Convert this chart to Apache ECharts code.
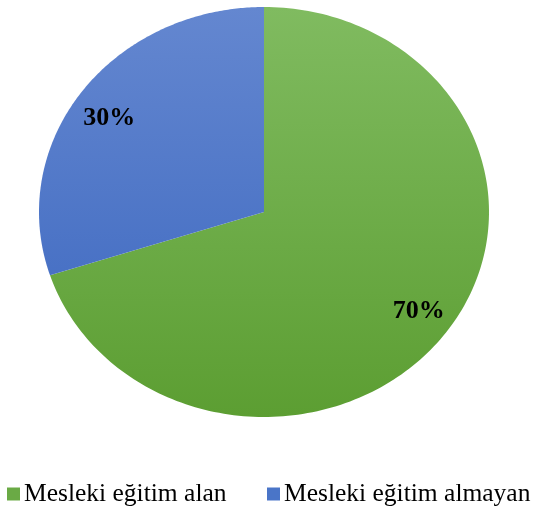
<!DOCTYPE html>
<html>
<head>
<meta charset="utf-8">
<script src="https://cdn.jsdelivr.net/npm/echarts@6/dist/echarts.min.js"></script>
<style>html,body{margin:0;padding:0;background:#fff}#c{width:534px;height:507px}</style>
</head>
<body>
<div id="c"></div>
<script>
var categories = ['Mesleki eğitim alan', 'Mesleki eğitim almayan'];
var values = [70, 30];
var labels = ['70%', '30%'];

var CX = 264, CY = 212, RX = 225, RY = 205;
var total = values.reduce(function (a, b) { return a + b; }, 0);

var gradients = [
  ['#80bb60', '#5c9e32'],
  ['#6487d0', '#3a66bf']
];
var legendColors = ['#6aaa45', '#4a75c8'];

function makeSeries(idx) {
  var before = 0;
  for (var k = 0; k < idx; k++) before += values[k];
  return {
    type: 'custom',
    name: categories[idx],
    coordinateSystem: 'none',
    color: legendColors[idx],
    data: [values[idx]],
    silent: true,
    renderItem: function (params, api) {
      var v = api.value(0);
      var a0 = Math.PI / 2 - 2 * Math.PI * before / total;
      var a1 = a0 - 2 * Math.PI * v / total;
      var pts = [[CX, CY]];
      var n = 200;
      for (var i = 0; i <= n; i++) {
        var a = a0 + (a1 - a0) * i / n;
        pts.push([CX + RX * Math.cos(a), CY - RY * Math.sin(a)]);
      }
      var am = (a0 + a1) / 2;
      var fx = 0.85, fy = 0.80;
      var g = gradients[idx];
      return {
        type: 'group',
        children: [
          {
            type: 'polygon',
            shape: { points: pts },
            style: {
              fill: new echarts.graphic.LinearGradient(0, CY - RY, 0, CY + RY, [
                { offset: 0, color: g[0] }, { offset: 1, color: g[1] }
              ], true),
              stroke: null
            }
          },
          {
            type: 'text',
            x: CX + RX * fx * Math.cos(am),
            y: CY - RY * fy * Math.sin(am) + 3,
            z2: 10,
            style: {
              text: labels[idx],
              font: 'bold 26px "Liberation Serif", "Times New Roman", serif',
              fill: '#000',
              align: 'center',
              verticalAlign: 'middle'
            }
          }
        ]
      };
    }
  };
}

function legendAt(idx, left) {
  return {
    data: [categories[idx]],
    left: left,
    top: 481,
    padding: 0,
    orient: 'horizontal',
    icon: 'rect',
    itemWidth: 13,
    itemHeight: 13,
    itemGap: 0,
    textStyle: {
      fontFamily: '"Liberation Serif", "Times New Roman", serif',
      fontSize: 25.5,
      color: '#000',
      padding: [0, 0, 0, -1]
    },
    selectedMode: false
  };
}

var chart = echarts.init(document.getElementById('c'));
chart.setOption({
  animation: false,
  backgroundColor: '#fff',
  legend: [legendAt(0, 7), legendAt(1, 267)],
  series: [makeSeries(0), makeSeries(1)]
});
</script>
</body>
</html>
